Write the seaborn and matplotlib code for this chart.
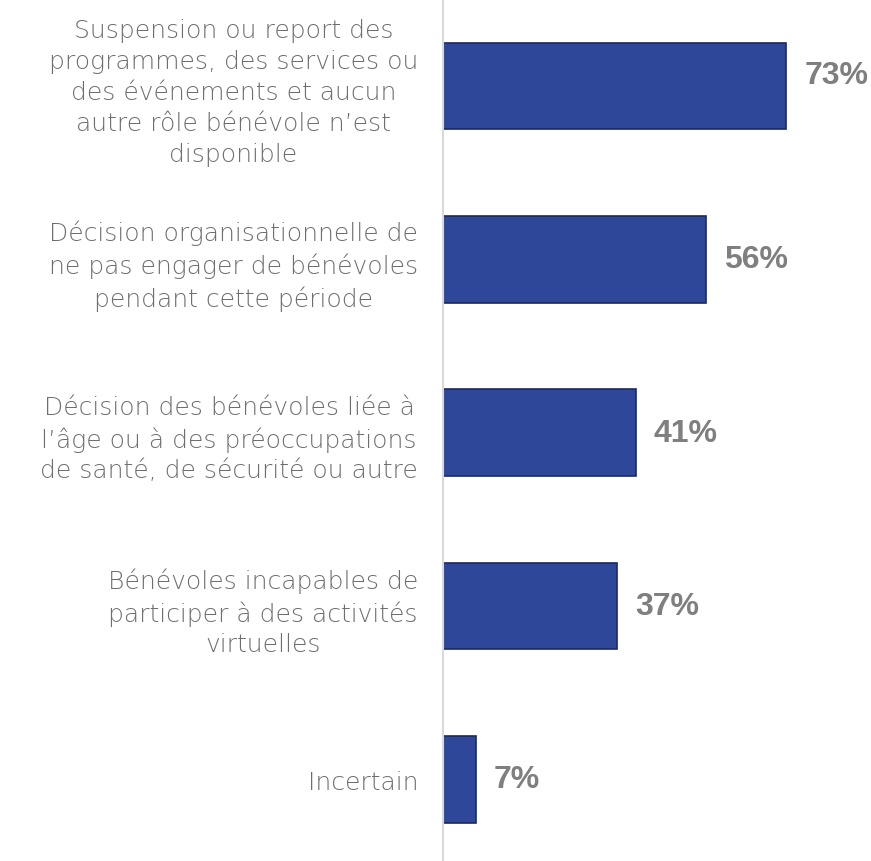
import matplotlib
matplotlib.use("Agg")
import matplotlib.pyplot as plt
import pandas as pd
import seaborn as sns

categories = [
    "Suspension ou report des\nprogrammes, des services ou\ndes événements et aucun\nautre rôle bénévole n\u2019est\ndisponible",
    "Décision organisationnelle de\nne pas engager de bénévoles\npendant cette période",
    "Décision des bénévoles liée à\nl\u2019âge ou à des préoccupations\nde santé, de sécurité ou autre",
    "Bénévoles incapables de\nparticiper à des activités\nvirtuelles",
    "Incertain",
]
values = [73, 56, 41, 37, 7]
value_labels = ["73%", "56%", "41%", "37%", "7%"]

df = pd.DataFrame({"reason": categories, "pct": values})

sns.set_theme(style="white")
plt.rcParams["font.family"] = ["DejaVu Sans"]

W, H = 871, 862
fig = plt.figure(figsize=(W / 100, H / 100), dpi=100)
ax = fig.add_axes([443 / W, 0, 423 / W, 1])

sns.barplot(data=df, y="reason", x="pct", orient="h", color="#2E4799",
            edgecolor="#1B2A60", linewidth=1.2, width=0.5, saturation=1, ax=ax)

ax.set_xlim(0, 90)
ax.set_ylim(4.472, -0.502)
ax.set_xlabel("")
ax.set_ylabel("")
ax.set_xticks([])
for s in ["top", "right", "bottom"]:
    ax.spines[s].set_visible(False)
ax.spines["left"].set_color("#D9D9D9")
ax.spines["left"].set_linewidth(1.5)

ax.tick_params(axis="y", length=0, pad=18)
for lab in ax.get_yticklabels():
    lab.set_multialignment("center")
    lab.set_fontsize(18)
    lab.set_fontweight("light")
    lab.set_color("#6E6E6E")
    lab.set_linespacing(1.36)

for i, (v, t) in enumerate(zip(values, value_labels)):
    dy = 8 if i == 0 else 0  # first label sits a bit high in the original
    ax.annotate(t, xy=(v, i), xytext=(13, dy), textcoords="offset points",
                va="center", ha="left", fontsize=23, fontweight="bold",
                color="#7F7F7F", family=["Liberation Sans", "DejaVu Sans"])

fig.savefig("out.png", dpi=100)
